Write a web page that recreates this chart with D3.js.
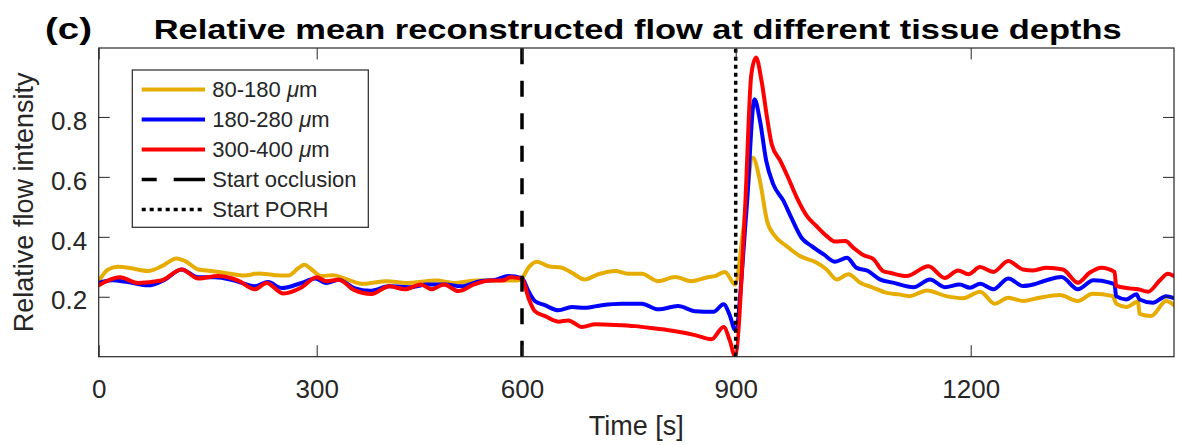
<!DOCTYPE html>
<html>
<head>
<meta charset="utf-8">
<script src="https://cdn.jsdelivr.net/npm/d3@7/dist/d3.min.js"></script>
<style>
  html, body { margin: 0; padding: 0; background: #fff; }
  svg { display: block; }
  text { font-family: "Liberation Sans", Arial, Helvetica, sans-serif; }
</style>
</head>
<body>
<svg id="chart" width="1177" height="445"></svg>
<script>
// Mean reconstructed flow (relative) for three tissue-depth bands, time in seconds
const time80 = [
  0, 13, 27, 45, 68, 87, 107, 119, 137, 155,
  178, 201, 220, 243, 261, 275, 283, 293, 307, 324,
  344, 368, 402, 431, 475, 500, 534, 563, 592, 600,
  609, 621, 637, 656, 670, 688, 707, 731, 749, 768,
  791, 815, 838, 862, 871, 885, 899, 910, 922, 931,
  940, 950, 965, 982, 1003, 1016, 1029, 1044, 1059, 1076,
  1093, 1108, 1122, 1144, 1169, 1190, 1212, 1231, 1248, 1267,
  1288, 1314, 1337, 1356, 1382, 1386, 1399, 1414, 1416, 1431,
  1450, 1460
];
const flow80 = [
  0.252, 0.291, 0.300, 0.295, 0.286, 0.302, 0.328, 0.319, 0.291, 0.286,
  0.278, 0.271, 0.278, 0.272, 0.271, 0.296, 0.307, 0.291, 0.269, 0.272,
  0.258, 0.243, 0.252, 0.246, 0.254, 0.246, 0.254, 0.254, 0.254, 0.262,
  0.297, 0.317, 0.302, 0.297, 0.280, 0.258, 0.275, 0.286, 0.277, 0.277,
  0.252, 0.266, 0.252, 0.266, 0.269, 0.283, 0.241, 0.430, 0.664, 0.586,
  0.453, 0.403, 0.369, 0.336, 0.314, 0.291, 0.258, 0.275, 0.247, 0.230,
  0.213, 0.208, 0.202, 0.221, 0.202, 0.195, 0.217, 0.177, 0.197, 0.186,
  0.197, 0.206, 0.186, 0.210, 0.202, 0.177, 0.166, 0.183, 0.143, 0.136,
  0.186, 0.172
];

const time180 = [
  0, 18, 40, 68, 91, 114, 137, 160, 187, 215,
  233, 252, 279, 298, 314, 332, 355, 378, 406, 438,
  461, 488, 511, 539, 562, 580, 600, 609, 618, 632,
  651, 670, 688, 712, 740, 768, 791, 819, 843, 869,
  883, 892, 899, 914, 924, 931, 939, 948, 961, 971,
  984, 997, 1012, 1027, 1042, 1054, 1069, 1084, 1101, 1127,
  1148, 1167, 1186, 1199, 1212, 1229, 1248, 1267, 1280, 1297,
  1316, 1337, 1357, 1378, 1384, 1386, 1399, 1412, 1416, 1433,
  1450, 1460
];
const flow180 = [
  0.246, 0.255, 0.249, 0.238, 0.257, 0.291, 0.265, 0.265, 0.254, 0.235,
  0.249, 0.229, 0.246, 0.261, 0.246, 0.257, 0.229, 0.220, 0.235, 0.232,
  0.241, 0.241, 0.235, 0.252, 0.257, 0.269, 0.262, 0.219, 0.186, 0.172,
  0.155, 0.166, 0.163, 0.172, 0.177, 0.177, 0.158, 0.169, 0.152, 0.150,
  0.175, 0.136, 0.090, 0.497, 0.859, 0.787, 0.653, 0.575, 0.520, 0.464,
  0.397, 0.369, 0.342, 0.317, 0.330, 0.297, 0.286, 0.258, 0.247, 0.232,
  0.258, 0.232, 0.241, 0.230, 0.243, 0.225, 0.261, 0.236, 0.241, 0.255,
  0.266, 0.225, 0.255, 0.247, 0.241, 0.202, 0.191, 0.208, 0.191, 0.180,
  0.202, 0.195
];

const time300 = [
  0, 29, 54, 86, 114, 137, 164, 192, 215, 231,
  254, 279, 300, 314, 332, 355, 380, 406, 429, 452,
  468, 486, 507, 530, 553, 571, 583, 600, 609, 618,
  632, 651, 665, 684, 703, 731, 759, 787, 815, 843,
  866, 883, 892, 899, 912, 920, 926, 933, 940, 946,
  957, 967, 978, 991, 1003, 1016, 1027, 1040, 1050, 1063,
  1076, 1088, 1097, 1118, 1146, 1167, 1184, 1197, 1212, 1229,
  1248, 1267, 1280, 1297, 1318, 1337, 1352, 1367, 1384, 1386,
  1403, 1414, 1427, 1442, 1452, 1460
];
const flow300 = [
  0.238, 0.265, 0.246, 0.254, 0.291, 0.261, 0.269, 0.254, 0.225, 0.246,
  0.211, 0.231, 0.265, 0.252, 0.257, 0.222, 0.209, 0.235, 0.225, 0.241,
  0.225, 0.241, 0.219, 0.241, 0.254, 0.254, 0.265, 0.260, 0.197, 0.152,
  0.136, 0.117, 0.121, 0.099, 0.108, 0.106, 0.102, 0.094, 0.085, 0.072,
  0.058, 0.099, 0.052, 0.002, 0.497, 0.943, 0.998, 0.920, 0.798, 0.709,
  0.653, 0.597, 0.531, 0.469, 0.436, 0.403, 0.384, 0.386, 0.364, 0.339,
  0.325, 0.286, 0.280, 0.269, 0.302, 0.263, 0.288, 0.275, 0.299, 0.283,
  0.319, 0.291, 0.288, 0.297, 0.291, 0.247, 0.280, 0.297, 0.283, 0.236,
  0.228, 0.225, 0.217, 0.255, 0.277, 0.269
];

const seriesLabels = ["80-180", "180-280", "300-400"];
const seriesColors = ["#E6AC00", "#0000FF", "#FF0000"];
const eventTimes = [600, 900];
const eventLabels = ["Start occlusion", "Start PORH"];
const xTickValues = [0, 300, 600, 900, 1200];
const yTickValues = [0.2, 0.4, 0.6, 0.8];
const xDomainEnd = 1460;
const yDomain = [0, 1.03];

const series = [
  { name: seriesLabels[0], color: seriesColors[0], t: time80, v: flow80 },
  { name: seriesLabels[1], color: seriesColors[1], t: time180, v: flow180 },
  { name: seriesLabels[2], color: seriesColors[2], t: time300, v: flow300 }
];

const axisColor = "#262626";
const plot = { left: 98.7, right: 1174, top: 48, bottom: 356.7 };

const svg = d3.select("#chart");

const x = d3.scaleLinear()
  .domain([0, 300, 600, 900, 1200, xDomainEnd])
  .range([plot.left, 316.7, 522, 735.7, 970.7, plot.right]);
const y = d3.scaleLinear().domain(yDomain).range([plot.bottom, plot.top]);

svg.append("defs").append("clipPath").attr("id", "plotClip")
  .append("rect")
  .attr("x", plot.left).attr("y", plot.top - 4)
  .attr("width", plot.right - plot.left).attr("height", plot.bottom - plot.top + 4);

// Traces
const line = d3.line()
  .x(d => x(d[0]))
  .y(d => y(d[1]))
  .curve(d3.curveMonotoneX);

const traces = svg.append("g").attr("clip-path", "url(#plotClip)");
series.forEach(s => {
  traces.append("path")
    .datum(d3.zip(s.t, s.v))
    .attr("fill", "none")
    .attr("stroke", s.color)
    .attr("stroke-width", 4)
    .attr("stroke-linejoin", "round")
    .attr("stroke-linecap", "round")
    .attr("d", line);
});

// Event markers
const eventDash = ["16,16.5", "4,4"];
eventTimes.forEach((t, i) => {
  svg.append("line")
    .attr("x1", x(t)).attr("x2", x(t))
    .attr("y1", y(yDomain[0])).attr("y2", y(yDomain[1]))
    .attr("stroke", "#000")
    .attr("stroke-width", 3.5)
    .attr("stroke-dasharray", eventDash[i]);
});

// Axes (ticks point inward, mirrored on top and right)
const gx = svg.append("g")
  .attr("transform", `translate(0,${plot.bottom})`)
  .call(d3.axisBottom(x).tickValues(xTickValues).tickFormat(d3.format("d"))
    .tickSizeInner(-11.5).tickSizeOuter(0).tickPadding(23));
const gxTop = svg.append("g")
  .attr("transform", `translate(0,${plot.top})`)
  .call(d3.axisTop(x).tickValues(xTickValues).tickFormat("")
    .tickSizeInner(-11.5).tickSizeOuter(0));
const gy = svg.append("g")
  .attr("transform", `translate(${plot.left},0)`)
  .call(d3.axisLeft(y).tickValues(yTickValues).tickFormat(d3.format(".1f"))
    .tickSizeInner(-11).tickSizeOuter(0).tickPadding(11.5));
const gyRight = svg.append("g")
  .attr("transform", `translate(${plot.right},0)`)
  .call(d3.axisRight(y).tickValues(yTickValues).tickFormat("")
    .tickSizeInner(-11).tickSizeOuter(0));

[gx, gxTop, gy, gyRight].forEach(g => {
  g.select(".domain").remove();
  g.selectAll(".tick line").attr("stroke", axisColor).attr("stroke-width", 1);
  g.selectAll("text").attr("fill", axisColor).attr("font-size", 26)
    .attr("font-family", "Liberation Sans, Arial, sans-serif");
});
gy.selectAll("text").attr("dy", "0.47em");

svg.append("rect")
  .attr("x", plot.left).attr("y", plot.top)
  .attr("width", plot.right - plot.left).attr("height", plot.bottom - plot.top)
  .attr("fill", "none").attr("stroke", axisColor).attr("stroke-width", 1.2);

// Axis titles
svg.append("text")
  .attr("x", (plot.left + plot.right) / 2 - 0)
  .attr("y", 435)
  .attr("text-anchor", "middle")
  .attr("font-size", 27)
  .attr("fill", axisColor)
  .text("Time [s]");

svg.append("text")
  .attr("transform", `translate(33,${(plot.top + plot.bottom) / 2}) rotate(-90)`)
  .attr("text-anchor", "middle")
  .attr("font-size", 27)
  .attr("fill", axisColor)
  .text("Relative flow intensity");

// Title and panel tag
svg.append("text")
  .attr("x", 153.7).attr("y", 39.3)
  .attr("font-size", 28).attr("font-weight", "bold")
  .attr("textLength", 968).attr("lengthAdjust", "spacingAndGlyphs")
  .attr("fill", "#000")
  .text("Relative mean reconstructed flow at different tissue depths");

svg.append("text")
  .attr("x", 45).attr("y", 39.3)
  .attr("font-size", 30).attr("font-weight", "bold")
  .attr("textLength", 47).attr("lengthAdjust", "spacingAndGlyphs")
  .attr("fill", "#000")
  .text("(c)");

// Legend
const legend = svg.append("g");
legend.append("rect")
  .attr("x", 132.3).attr("y", 70)
  .attr("width", 236).attr("height", 157.3)
  .attr("fill", "#fff").attr("stroke", axisColor).attr("stroke-width", 1.2);

const rowY = d3.range(5).map(i => 89.5 + i * 30);
const legendItems = [
  ...series.map(s => ({ label: s.name, unit: true, color: s.color, dash: null, width: 4 })),
  { label: eventLabels[0], unit: false, color: "#000", dash: "15,17,32", width: 3.5 },
  { label: eventLabels[1], unit: false, color: "#000", dash: "4,4", width: 3.5 }
];
legendItems.forEach((item, i) => {
  legend.append("line")
    .attr("x1", 141.7).attr("x2", 205)
    .attr("y1", rowY[i]).attr("y2", rowY[i])
    .attr("stroke", item.color)
    .attr("stroke-width", item.width)
    .attr("stroke-dasharray", item.dash);
  const txt = legend.append("text")
    .attr("x", 212.3).attr("y", rowY[i] + 7.8)
    .attr("font-size", 22)
    .attr("fill", axisColor);
  if (item.unit) {
    txt.append("tspan").text(item.label + " ");
    txt.append("tspan").attr("font-style", "italic").text("\u03BC");
    txt.append("tspan").text("m");
  } else {
    txt.text(item.label);
  }
});
</script>
</body>
</html>
